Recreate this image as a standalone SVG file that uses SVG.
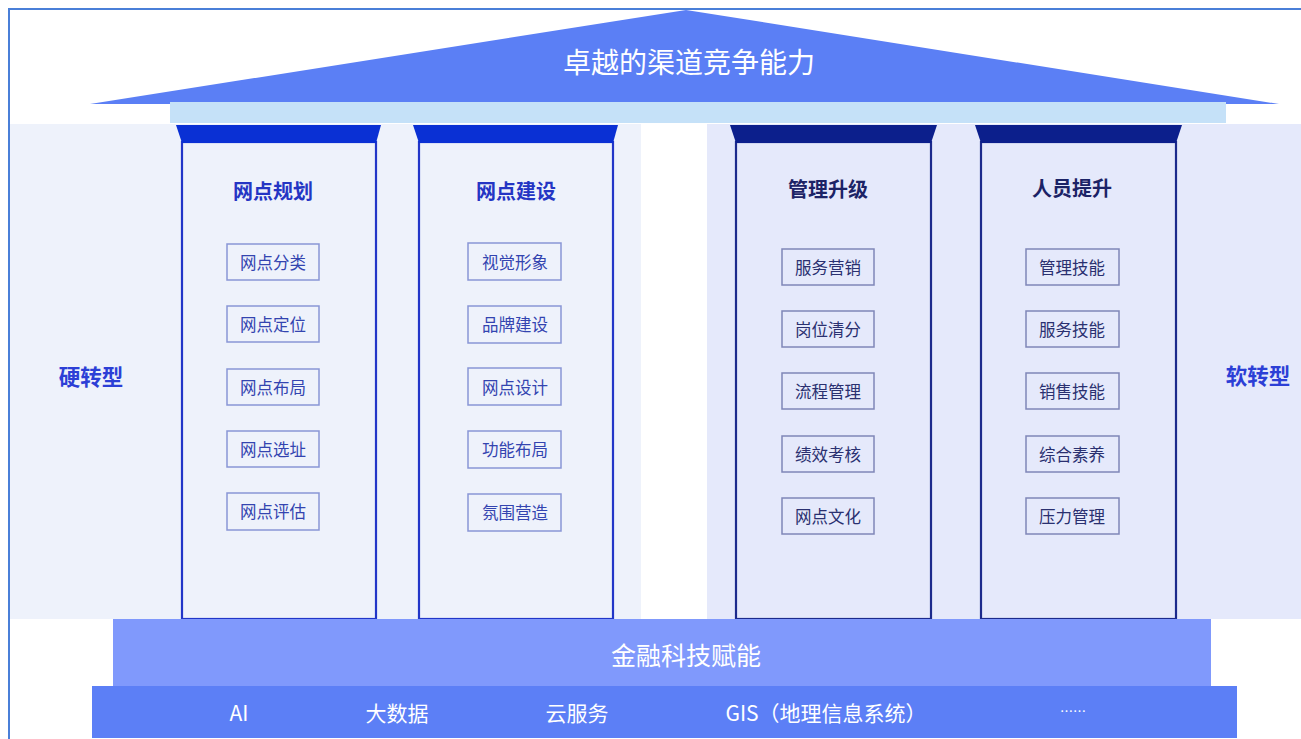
<svg xmlns="http://www.w3.org/2000/svg" width="1301" height="739" viewBox="0 0 1301 739">
<style>
text{font-family:"Noto Sans CJK SC","Noto Sans",sans-serif;text-anchor:middle;dominant-baseline:central}
.title{fill:#ffffff;font-size:28px}
.ptl{fill:#2435c4;font-size:20px;font-weight:bold}
.ptr{fill:#1c2366;font-size:20px;font-weight:bold}
.box{fill:none;stroke:#8996d6;stroke-width:1.5}
.boxr{fill:none;stroke:#7f86b8;stroke-width:1.5}
.itl{fill:#3344b0;font-size:16.5px}
.itr{fill:#2a3070;font-size:16.5px}
.side{fill:#2c3fd6;font-size:21.5px;font-weight:bold}
.body{stroke-width:2.2}
.base{fill:#ffffff;font-size:21px}
</style>
<rect x="0" y="0" width="1301" height="739" fill="#ffffff"/>
<g id="panels">
<rect x="10" y="124" width="631" height="495" fill="#eef2fb"/>
<rect x="707" y="124" width="594" height="495" fill="#e5e9fb"/>
</g>
<g id="roof">
<polygon points="90,104 686,10 1279,104" fill="#5b7ff5"/>
<rect x="170" y="102" width="1056" height="21" fill="#c5e1f8"/>
<text class="title" x="689" y="61">卓越的渠道竞争能力</text>
</g>
<g id="pillar-1">
<rect class="body" x="182" y="142" width="194" height="477" fill="#eef2fb" stroke="#2236c8"/>
<polygon points="176,125 381,125 376,143 182,143" fill="#0a30d4"/>
<text class="ptl" x="273" y="190">网点规划</text>
<rect class="box" x="227" y="244" width="92" height="36"/><text class="itl" x="273" y="262">网点分类</text>
<rect class="box" x="227" y="306" width="92" height="36"/><text class="itl" x="273" y="324">网点定位</text>
<rect class="box" x="227" y="369" width="92" height="36"/><text class="itl" x="273" y="387">网点布局</text>
<rect class="box" x="227" y="431" width="92" height="36"/><text class="itl" x="273" y="449">网点选址</text>
<rect class="box" x="227" y="493" width="92" height="37"/><text class="itl" x="273" y="511">网点评估</text>
</g>
<g id="pillar-2">
<rect class="body" x="419" y="142" width="194" height="477" fill="#eef2fb" stroke="#2236c8"/>
<polygon points="413,125 618,125 613,143 419,143" fill="#0a30d4"/>
<text class="ptl" x="516" y="190">网点建设</text>
<rect class="box" x="468" y="243" width="93" height="37"/><text class="itl" x="515" y="262">视觉形象</text>
<rect class="box" x="468" y="306" width="93" height="37"/><text class="itl" x="515" y="324">品牌建设</text>
<rect class="box" x="468" y="368" width="93" height="37"/><text class="itl" x="515" y="387">网点设计</text>
<rect class="box" x="468" y="431" width="93" height="37"/><text class="itl" x="515" y="449">功能布局</text>
<rect class="box" x="468" y="494" width="93" height="37"/><text class="itl" x="515" y="512">氛围营造</text>
</g>
<g id="pillar-3">
<rect class="body" x="736" y="142" width="195" height="477" fill="#e5e9fb" stroke="#1c2a8c"/>
<polygon points="730,125 937,125 931,143 736,143" fill="#0c1f8c"/>
<text class="ptr" x="828" y="188">管理升级</text>
<rect class="boxr" x="782" y="249" width="92" height="36"/><text class="itr" x="828" y="267">服务营销</text>
<rect class="boxr" x="782" y="311" width="92" height="36"/><text class="itr" x="828" y="329">岗位清分</text>
<rect class="boxr" x="782" y="373" width="92" height="36"/><text class="itr" x="828" y="391">流程管理</text>
<rect class="boxr" x="782" y="436" width="92" height="36"/><text class="itr" x="828" y="454">绩效考核</text>
<rect class="boxr" x="782" y="498" width="92" height="36"/><text class="itr" x="828" y="516">网点文化</text>
</g>
<g id="pillar-4">
<rect class="body" x="981" y="142" width="195" height="477" fill="#e5e9fb" stroke="#1c2a8c"/>
<polygon points="975,125 1182,125 1176,143 981,143" fill="#0c1f8c"/>
<text class="ptr" x="1072" y="187">人员提升</text>
<rect class="boxr" x="1026" y="249" width="93" height="36"/><text class="itr" x="1072" y="267">管理技能</text>
<rect class="boxr" x="1026" y="311" width="93" height="36"/><text class="itr" x="1072" y="329">服务技能</text>
<rect class="boxr" x="1026" y="373" width="93" height="36"/><text class="itr" x="1072" y="391">销售技能</text>
<rect class="boxr" x="1026" y="436" width="93" height="36"/><text class="itr" x="1072" y="454">综合素养</text>
<rect class="boxr" x="1026" y="498" width="93" height="36"/><text class="itr" x="1072" y="516">压力管理</text>
</g>
<g id="side-labels">
<text class="side" x="91" y="375">硬转型</text>
<text class="side" x="1258" y="374">软转型</text>
</g>
<g id="base">
<rect x="113" y="619" width="1098" height="67" fill="#8099fc"/>
<text class="base" x="686" y="654" style="font-size:25px">金融科技赋能</text>
<rect x="92" y="686" width="1145" height="52" fill="#5c7ff6"/>
<text class="base" x="239" y="712">AI</text>
<text class="base" x="397" y="712">大数据</text>
<text class="base" x="577" y="712">云服务</text>
<text class="base" x="826" y="712">GIS（地理信息系统）</text>
<text class="base" x="1073" y="710" style="font-size:13px">……</text>
</g>
<g id="connectors"></g>
<g id="frame">
<path d="M9,739 V9 H1301" fill="none" stroke="#4a7fd8" stroke-width="2"/>
</g>
</svg>
